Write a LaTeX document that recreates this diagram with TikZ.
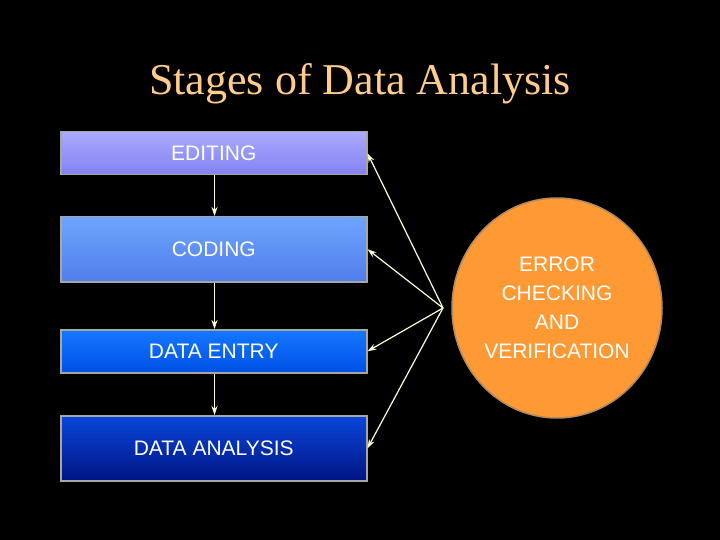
\documentclass[tikz,border=0pt]{standalone}
\usepackage{fontspec}
\setmainfont{Liberation Sans}
\newfontfamily\titlefont{Liberation Serif}
\usetikzlibrary{arrows.meta,shapes.geometric}
\definecolor{cream}{RGB}{255,255,210}
\definecolor{ttl}{RGB}{255,204,140}
\definecolor{orng}{RGB}{255,153,51}
\begin{document}
\begin{tikzpicture}[x=1pt,y=-1pt,
  stage/.style={draw=gray!70,line width=1.5pt,minimum width=306pt,inner sep=0pt,font=\fontsize{21}{24}\selectfont,text=white,anchor=north west},
  conn/.style={draw=cream,line width=1.2pt,-{Stealth[length=9pt,width=6pt]}}]
\fill[black] (0,0) rectangle (720,540);
\useasboundingbox (0,0) rectangle (720,540);
\node[font=\titlefont\fontsize{44}{48}\selectfont,text=ttl] (title) at (360,84) {Stages of Data Analysis};
\node[stage,minimum height=43pt,top color={rgb,255:red,170;green,170;blue,255},bottom color={rgb,255:red,130;green,130;blue,240}] (ed) at (60,131) {EDITING};
\node[stage,minimum height=65pt,top color={rgb,255:red,110;green,165;blue,255},bottom color={rgb,255:red,80;green,125;blue,235}] (co) at (60,216) {CODING};
\node[stage,minimum height=43pt,top color={rgb,255:red,20;green,120;blue,255},bottom color={rgb,255:red,0;green,80;blue,230}] (de) at (60,329) {DATA ENTRY};
\node[stage,minimum height=65pt,top color={rgb,255:red,10;green,70;blue,220},bottom color={rgb,255:red,0;green,20;blue,130}] (da) at (60,415) {DATA ANALYSIS};
\node[ellipse,draw=gray!60!orng,line width=1.5pt,fill=orng,minimum width=210pt,minimum height=220pt,inner sep=0pt,align=center,text=white,font=\fontsize{21}{29}\selectfont] (err) at (557,308) {ERROR\\CHECKING\\AND\\VERIFICATION};
\coordinate (hub) at (443,308);
\draw[conn] ([xshift=-153pt]ed.south east) -- ([xshift=-153pt]co.north east);
\draw[conn] ([xshift=-153pt]co.south east) -- ([xshift=-153pt]de.north east);
\draw[conn] ([xshift=-153pt]de.south east) -- ([xshift=-153pt]da.north east);
\draw[conn] (hub) -- (ed.east);
\draw[conn] (hub) -- (co.east);
\draw[conn] (hub) -- (de.east);
\draw[conn] (hub) -- (da.east);
\end{tikzpicture}
\end{document}
